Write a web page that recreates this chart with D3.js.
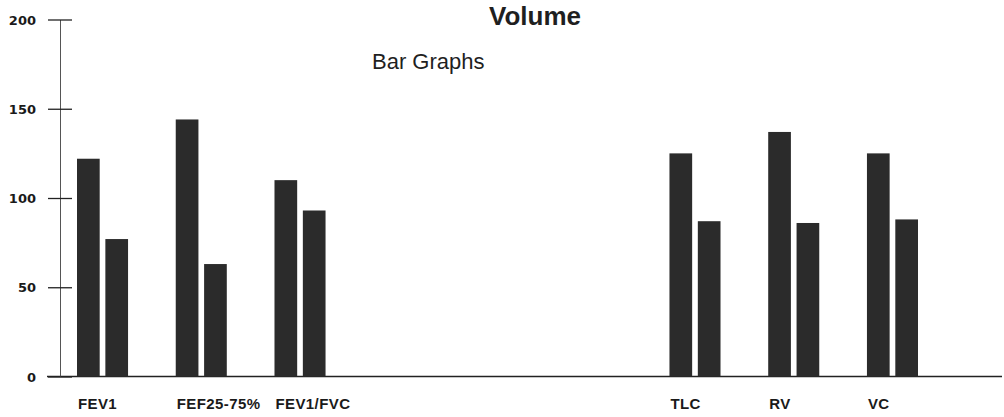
<!DOCTYPE html>
<html>
<head>
<meta charset="utf-8">
<script src="https://cdn.jsdelivr.net/npm/d3@7"></script>
<style>
  html, body { margin: 0; padding: 0; background: #ffffff; }
  svg { display: block; }
</style>
</head>
<body>
<svg id="chart" width="1004" height="417"></svg>
<script>
// ---- data ----
const categories = ["FEV1", "FEF25-75%", "FEV1/FVC", "TLC", "RV", "VC"];
const seriesA = [122, 144, 110, 125, 137, 125];
const seriesB = [77, 63, 93, 87, 86, 88];
const yTicks = [0, 50, 100, 150, 200];
const titleText = "Volume";
const subtitleText = "Bar Graphs";

// ---- layout ----
const W = 1004, H = 417;
const svg = d3.select("#chart");

// slots: three gap slots between the spirometry and lung-volume groups
const slotDomain = [categories[0], categories[1], categories[2], "_g1", "_g2", "_g3",
                    categories[3], categories[4], categories[5]];

const x = d3.scaleBand().domain(slotDomain).range([77, 918])
  .paddingInner(0.483).paddingOuter(0).align(0.5);
const xInner = d3.scaleBand().domain(["a", "b"]).range([0, x.bandwidth()])
  .paddingInner(0.2).paddingOuter(0);
const y = d3.scaleLinear().domain([0, 200]).range([376.5, 19.5]);

const barColor = "#2b2b2b";

// baseline
svg.append("line")
  .attr("x1", 47).attr("x2", 1002)
  .attr("y1", y(0)).attr("y2", y(0))
  .attr("stroke", "#222").attr("stroke-width", 1.3);

// y axis
const yAxis = d3.axisLeft(y).tickValues(yTicks).tickFormat(d3.format("d"))
  .tickSizeInner(12).tickSizeOuter(0).tickPadding(0);
const gy = svg.append("g").attr("transform", "translate(60,0)").call(yAxis);
gy.select(".domain").attr("stroke", "#555").attr("stroke-width", 1);
gy.selectAll(".tick line")
  .attr("x1", -12).attr("x2", 12)
  .attr("stroke", "#222").attr("stroke-width", 1.3);
gy.selectAll(".tick text")
  .attr("x", -24)
  .attr("dy", "0.36em")
  .style("font-family", "'DejaVu Sans', sans-serif")
  .style("font-weight", "bold")
  .style("font-size", "13px")
  .attr("fill", "#1a1a1a");

// bars
const rows = categories.map((c, i) => ({ cat: c, a: seriesA[i], b: seriesB[i] }));
const groups = svg.selectAll("g.grp").data(rows).join("g")
  .attr("class", "grp")
  .attr("transform", d => `translate(${x(d.cat)},0)`);

groups.selectAll("rect")
  .data(d => [{ k: "a", v: d.a }, { k: "b", v: d.b }])
  .join("rect")
  .attr("x", d => xInner(d.k))
  .attr("width", xInner.bandwidth())
  .attr("y", d => y(d.v))
  .attr("height", d => y(0) - y(d.v))
  .attr("fill", barColor);

// x labels
groups.append("text")
  .attr("x", 1)
  .attr("y", 409)
  .text(d => d.cat)
  .style("font-family", "'Liberation Sans', Arial, sans-serif")
  .style("font-weight", "bold")
  .style("font-size", "15px")
  .style("letter-spacing", "0.4px")
  .attr("fill", "#1a1a1a");

// title (kept fully inside the picture)
svg.append("text")
  .attr("x", 535).attr("y", 25)
  .attr("text-anchor", "middle")
  .text(titleText)
  .style("font-family", "'Liberation Sans', Arial, sans-serif")
  .style("font-weight", "bold")
  .style("font-size", "26px")
  .attr("fill", "#1f1f1f");

svg.append("text")
  .attr("x", 372).attr("y", 69)
  .text(subtitleText)
  .style("font-family", "'Liberation Sans', Arial, sans-serif")
  .style("font-size", "22px")
  .attr("fill", "#1f1f1f");
</script>
</body>
</html>
